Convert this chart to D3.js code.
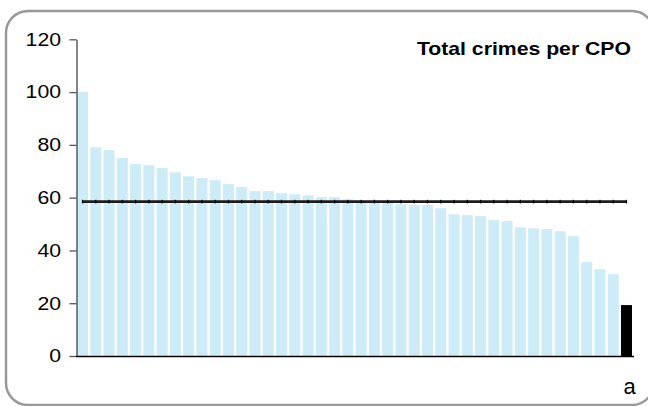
<!DOCTYPE html>
<html>
<head>
<meta charset="utf-8">
<script src="https://cdn.jsdelivr.net/npm/d3@7/dist/d3.min.js"></script>
<style>
  html, body { margin: 0; padding: 0; background: #fff; }
  svg { display: block; }
  text { font-family: "Liberation Sans", Arial, sans-serif; }
</style>
</head>
<body>
<svg id="chart" width="648" height="406"></svg>
<script>
// ---- data ----
const crimeValues = [100, 79.1, 78.0, 75.0, 72.7, 72.3, 71.2, 69.6, 68.1, 67.4,
  66.6, 65.1, 64.0, 62.5, 62.5, 61.7, 61.3, 60.9, 60.2, 60.2,
  59.4, 58.9, 58.7, 58.5, 57.5, 57.2, 57.2, 56.0, 53.7, 53.4,
  53.0, 51.5, 51.1, 48.8, 48.4, 48.1, 47.3, 45.4, 35.6, 32.9,
  31.0, 19.3];
const highlightIndex = [41];
const averageValue = 58.5;
const yTicks = [0, 20, 40, 60, 80, 100, 120];
const titleText = "Total crimes per CPO";
const xLabel = "a";

// ---- layout ----
(function () {
const svg = d3.select("#chart");
const pLeft = 77, pRight = 632, pTop = 39.3, pBottom = 356;
const stretch = 1.16;
const cats = d3.range(crimeValues.length);

svg.append("rect")
  .attr("x", 6).attr("y", 11).attr("width", 648).attr("height", 394)
  .attr("rx", 22).attr("ry", 22)
  .attr("fill", "#fff").attr("stroke", "#999").attr("stroke-width", 2.5);

const x = d3.scaleBand().domain(cats).range([pLeft, pRight]).paddingInner(0.17).paddingOuter(0);
const y = d3.scaleLinear().domain([0, 120]).range([pBottom, pTop]);

svg.append("g").selectAll("rect").data(crimeValues).join("rect")
  .attr("x", (d, i) => x(i))
  .attr("y", d => y(d))
  .attr("width", x.bandwidth())
  .attr("height", d => y(0) - y(d))
  .attr("fill", (d, i) => highlightIndex.includes(i) ? "#000" : "#cdecf8");

// y axis
const yAxis = d3.axisLeft(y).tickValues(yTicks).tickSize(7).tickSizeOuter(0).tickPadding(6);
const ga = svg.append("g").attr("transform", "translate(76.5,0)").call(yAxis);
ga.select(".domain").attr("stroke", "#444").attr("stroke-width", 1.3);
ga.selectAll(".tick line").attr("stroke", "#555").attr("stroke-width", 1.3);
ga.selectAll(".tick text").attr("font-size", 18.3).attr("fill", "#000")
  .attr("font-family", "'Liberation Sans', Arial, sans-serif")
  .attr("x", 0)
  .attr("transform", `translate(-15.5,0) scale(${stretch},1)`);

// x axis line
svg.append("line").attr("x1", 76).attr("x2", 634).attr("y1", pBottom + 0.5).attr("y2", pBottom + 0.5)
  .attr("stroke", "#000").attr("stroke-width", 1.3);

// average line
const line = d3.line().x(i => x(i) + x.bandwidth() / 2).y(() => y(averageValue));
svg.append("path").datum(cats).attr("d", line)
  .attr("fill", "none").attr("stroke", "#1c1c1c").attr("stroke-width", 2.8);
svg.append("g").selectAll("rect").data(cats).join("rect")
  .attr("x", i => x(i) + x.bandwidth() / 2 - 0.6)
  .attr("y", y(averageValue) - 1.8)
  .attr("width", 1.2).attr("height", 3.6).attr("fill", "#000");

// title
svg.append("text")
  .attr("transform", `translate(631,55) scale(${stretch},1)`)
  .attr("text-anchor", "end")
  .attr("font-size", 18.3).attr("font-weight", "bold").attr("fill", "#000").text(titleText);

// x label
svg.append("text").attr("x", 629.5).attr("y", 394).attr("text-anchor", "middle")
  .attr("font-size", 22).attr("fill", "#000").text(xLabel);
})();
</script>
</body>
</html>
